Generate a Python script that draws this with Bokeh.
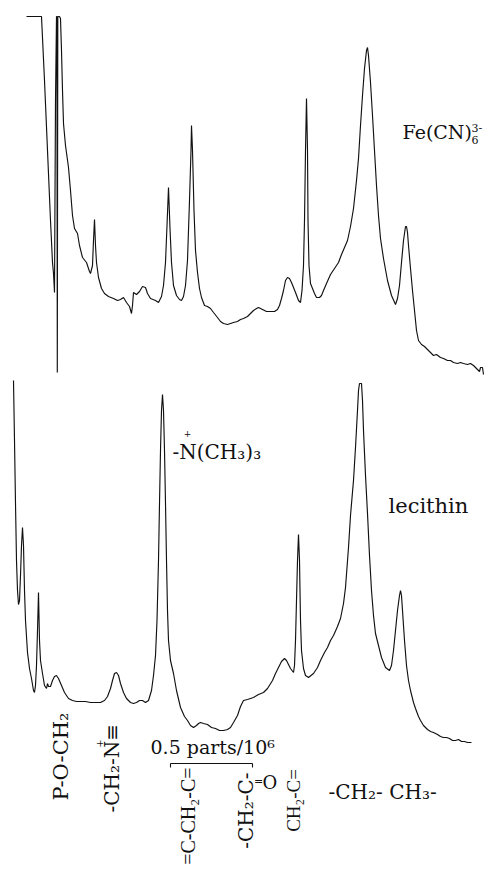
import numpy as np
from bokeh.plotting import figure
from bokeh.models import Range1d
from bokeh.embed import file_html
from bokeh.resources import INLINE
from bokeh.core.properties import value

W, H = 489, 869

# ---- traced spectra (page position x, depth y measured from the top) ----
fe_x = [26, 41, 44, 47, 50, 52, 53, 54, 55, 56, 56.4, 56.8, 57.3, 59, 60, 61, 62, 63, 65, 68, 70, 72, 74, 77, 79,
        82, 86, 89, 90, 92, 93, 94, 95, 96, 98, 101, 104, 108, 113, 117, 120, 123, 126, 129, 131, 132, 133, 136,
        139, 142, 145, 147, 150, 155, 158, 161, 163, 165, 166.5, 168, 169.5, 171, 173, 176, 179, 181, 183, 185,
        187, 189, 190.5, 191, 192, 193.5, 195, 197, 199, 201, 204, 207, 210, 213, 217, 220, 223, 227, 230, 233,
        237, 240, 243, 247, 250, 253, 256, 258, 262, 266, 270, 274, 277, 279, 281, 283, 285, 287, 289, 291, 293,
        295, 298, 300, 301.5, 303, 304, 305, 306, 307, 307.5, 308.5, 310, 312, 314, 316, 319, 321, 323, 326, 330,
        334, 338, 341, 344, 347, 350, 353, 356, 358, 360, 362, 364, 366, 367, 368, 370, 372, 374, 376, 378, 380,
        383, 387, 391, 395, 397, 399, 401, 403, 405, 406, 407, 408, 410, 412, 414, 416, 418, 421, 424, 427, 430,
        433, 436, 440, 443, 447, 450, 453, 457, 460, 463, 467, 470, 473, 475, 477, 479, 480, 482, 483]
fe_y = [16, 16, 80, 150, 220, 262, 273, 292, 100, 16, 16, 372, 16, 16, 18, 50, 90, 123, 145, 167, 190, 215, 228, 233,
        245, 257, 262, 271, 273, 265, 240, 219, 245, 262, 277, 288, 293, 296, 298, 300, 299, 297, 302, 306, 313,
        305, 292, 294, 291, 286, 287, 293, 298, 300, 302, 296, 285, 262, 225, 187, 228, 262, 285, 295, 299, 300,
        296, 285, 260, 200, 150, 125, 150, 210, 250, 272, 288, 297, 305, 306, 308, 312, 317, 321, 323, 324, 323,
        322, 321, 319, 318, 316, 313, 310, 308, 307, 309, 311, 311, 311, 309, 305, 298, 290, 280, 277, 278, 282,
        287, 292, 300, 302, 290, 265, 220, 150, 98, 150, 220, 265, 283, 288, 293, 297, 297, 295, 290, 283, 274,
        268, 262, 254, 247, 240, 226, 208, 180, 158, 125, 95, 68, 50, 47, 55, 82, 115, 150, 185, 215, 238, 258,
        280, 295, 304, 298, 285, 262, 240, 226, 226, 232, 245, 268, 290, 310, 330, 340, 344, 346, 349, 352, 355,
        354, 357, 358, 360, 360, 362, 363, 362, 363, 364, 363, 365, 367, 369, 371, 367, 367, 374]

lec_x = [13, 14, 15, 16, 17, 18, 19, 20, 21, 22, 23, 24, 25, 27, 29, 31, 33, 34, 35, 36, 37, 38, 39, 40, 42, 44,
         46, 47, 48, 50, 52, 54, 56, 58, 61, 64, 68, 72, 76, 80, 85, 90, 95, 100, 104, 107, 110, 112, 114, 116,
         118, 120, 123, 126, 130, 133, 136, 139, 142, 145, 148, 151, 153, 155, 156.5, 158, 159, 160, 161, 162,
         163, 164, 165, 166, 167, 168, 170, 173, 176, 180, 184, 187, 190, 193, 196, 198, 200, 203, 207, 211, 215,
         219, 223, 227, 230, 233, 237, 240, 243, 247, 250, 253, 258, 263, 267, 272, 275, 278, 281, 284, 286, 288,
         290, 293, 294, 295, 296, 297, 298, 299, 300, 301, 303, 305, 308, 313, 317, 320, 324, 327, 330, 333, 337,
         340, 343, 345, 348, 350, 353, 355, 357, 358, 359, 361, 362, 363, 365, 367, 369, 371, 373, 375, 378, 381,
         385, 389, 391, 393, 395, 397, 399, 400, 401, 402, 404, 406, 408, 410, 413, 415, 418, 420, 423, 427, 430,
         433, 437, 440, 443, 446, 449, 452, 455, 458, 461, 464, 467, 471]
lec_y = [380, 440, 503, 560, 590, 604, 600, 575, 545, 527, 545, 590, 620, 652, 668, 678, 690, 692, 685, 665, 630,
         592, 640, 660, 673, 685, 688, 683, 686, 686, 680, 676, 675, 678, 685, 692, 698, 700, 701, 701, 701, 702,
         702, 702, 700, 696, 688, 680, 673, 672, 675, 683, 692, 698, 702, 703, 702, 700, 700, 702, 700, 690, 675,
         655, 620, 560, 503, 450, 410, 394, 410, 450, 503, 560, 610, 640, 660, 673, 690, 707, 716, 720, 725, 727,
         725, 723, 722, 723, 724, 727, 728, 730, 730, 729, 727, 722, 715, 706, 700, 699, 698, 697, 694, 692, 688,
         680, 673, 667, 661, 658, 660, 664, 668, 672, 665, 640, 600, 560, 534, 560, 620, 650, 668, 675, 677, 673,
         667, 660, 652, 647, 640, 635, 626, 618, 603, 587, 547, 515, 480, 447, 410, 390, 383, 383, 400, 430, 475,
         513, 555, 590, 615, 633, 645, 657, 667, 670, 665, 650, 630, 610, 595, 590, 595, 610, 640, 665, 680, 690,
         702, 708, 716, 720, 725, 729, 731, 732, 734, 736, 737, 737, 738, 740, 740, 739, 741, 741, 742, 742]

# ---- texts ----
fe_label = ["Fe(CN)", "3-", "6"]
lec_label = "lecithin"
nme3_label = ["-N(CH\u2083)\u2083", "+"]
assignments = ["P-O-CH\u2082", "-CH\u2082-N\u2261", "=C-CH\u2082-C=", "-CH\u2082-C-", "CH\u2082-C=", "-CH\u2082- CH\u2083-"]
carbonyl = ["=", "O"]
scale_label = "0.5 parts/10\u2076"


def Y(v):
    return H - np.asarray(v, dtype=float)


p = figure(width=W, height=H, x_range=Range1d(0, W), y_range=Range1d(0, H),
           output_backend="svg", toolbar_location=None, x_axis_type=None, y_axis_type=None,
           min_border=0, min_border_left=0, min_border_right=0, min_border_top=0, min_border_bottom=0)
p.grid.visible = False
p.outline_line_color = None
p.background_fill_color = "white"
p.border_fill_color = "white"

INK = "#111111"
p.line(fe_x, Y(fe_y), line_color=INK, line_width=1.15)
p.line(lec_x, Y(lec_y), line_color=INK, line_width=1.15)

SERIF = value("DejaVu Serif")
NARROW = value("Liberation Serif")


def txt(x, y, t, size, align="left", angle=0.0, font=SERIF):
    p.text(x=[x], y=[H - y], text=[t], text_font=font, text_font_size=f"{size}px",
           text_color=INK, text_align=align, text_baseline="middle", angle=angle)


R = np.pi / 2
# spectrum labels
txt(402, 131, fe_label[0], 19)
txt(471, 127, fe_label[1], 11)
txt(471, 139, fe_label[2], 11)
txt(388, 505, lec_label, 21)
txt(172, 451, nme3_label[0], 20)
txt(187, 433, nme3_label[1], 9, align="center")

# assignment labels (rotated, reading upward)
txt(60, 800, assignments[0], 21, align="left", angle=R)
txt(111, 812, assignments[1], 20, align="left", angle=R)
txt(99, 743, "+", 10, align="center", angle=R)
txt(187, 767, assignments[2], 20, align="right", angle=R, font=NARROW)
txt(245, 772, assignments[3], 20, align="right", angle=R)
txt(258, 781, carbonyl[0], 11, align="center")
txt(262, 782, carbonyl[1], 18, align="left")
txt(293, 800, assignments[4], 19, align="center", angle=R, font=NARROW)
txt(328, 791, assignments[5], 20)

# scale bar
txt(150, 746, scale_label, 19)
p.segment(x0=[170, 170, 252], y0=Y([763, 763, 763]), x1=[252, 170, 252], y1=Y([763, 767, 767]),
          line_color=INK, line_width=1.1)

open("out.html", "w").write(file_html(p, INLINE))
